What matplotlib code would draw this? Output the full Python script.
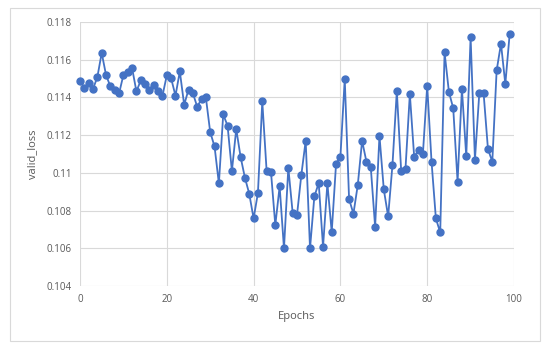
import matplotlib
matplotlib.use("Agg")
import matplotlib.pyplot as plt
from matplotlib.patches import Rectangle

epochs = list(range(100))
valid_loss = [
    0.11489, 0.11450, 0.11476, 0.11445, 0.11508, 0.11636, 0.11519, 0.11458, 0.11437, 0.11421,
    0.11519, 0.11533, 0.11556, 0.11432, 0.11490, 0.11473, 0.11441, 0.11467, 0.11436, 0.11409,
    0.11517, 0.11501, 0.11409, 0.11538, 0.11361, 0.11441, 0.11423, 0.11351, 0.11391, 0.11400,
    0.11216, 0.11140, 0.10944, 0.11310, 0.11250, 0.11010, 0.11232, 0.11085, 0.10974, 0.10889,
    0.10758, 0.10894, 0.11379, 0.11010, 0.11006, 0.10723, 0.10928, 0.10599, 0.11027, 0.10788,
    0.10776, 0.10990, 0.11170, 0.10599, 0.10875, 0.10946, 0.10608, 0.10944, 0.10686, 0.11048,
    0.11084, 0.11498, 0.10861, 0.10783, 0.10935, 0.11170, 0.11059, 0.11029, 0.10714, 0.11197,
    0.10912, 0.10769, 0.11043, 0.11434, 0.11011, 0.11023, 0.11418, 0.11085, 0.11121, 0.11098,
    0.11462, 0.11059, 0.10758, 0.10684, 0.11639, 0.11430, 0.11342, 0.10953, 0.11445, 0.11087,
    0.11720, 0.11070, 0.11421, 0.11421, 0.11126, 0.11059, 0.11543, 0.11685, 0.11471, 0.11736,
]
y_ticks = [0.104, 0.106, 0.108, 0.11, 0.112, 0.114, 0.116, 0.118]
y_tick_labels = ["0.104", "0.106", "0.108", "0.11", "0.112", "0.114", "0.116", "0.118"]
x_ticks = [0, 20, 40, 60, 80, 100]

plt.rcParams['font.family'] = ['Open Sans', 'DejaVu Sans']
W, H = 550, 352
fig = plt.figure(figsize=(W / 100, H / 100), dpi=100)
fig.patches.append(Rectangle((10 / W, 1 - 341 / H), 530 / W, 333 / H, transform=fig.transFigure,
                             fill=False, edgecolor='#d9d9d9', linewidth=0.8))

ax = fig.add_axes([80 / W, 1 - 286 / H, 434 / W, 264 / H])
ax.plot(epochs, valid_loss, color='#4472C4', linewidth=1.3, marker='o', markersize=5,
        markerfacecolor='#4472C4', markeredgecolor='#4472C4', clip_on=False, zorder=3)
ax.set_xlim(0, 100)
ax.set_ylim(0.104, 0.118)
ax.set_xticks(x_ticks)
ax.set_yticks(y_ticks)
ax.set_yticklabels(y_tick_labels)
ax.grid(True, color='#d9d9d9', linewidth=0.8)
ax.set_axisbelow(True)
for s in ax.spines.values():
    s.set_visible(False)
ax.tick_params(length=0, labelsize=7, labelcolor='#595959', pad=6)
ax.set_xlabel('Epochs', fontsize=8, color='#595959', labelpad=4)
ax.set_ylabel('valid_loss', fontsize=8, color='#595959', labelpad=6)

fig.savefig('out.png', dpi=100)
